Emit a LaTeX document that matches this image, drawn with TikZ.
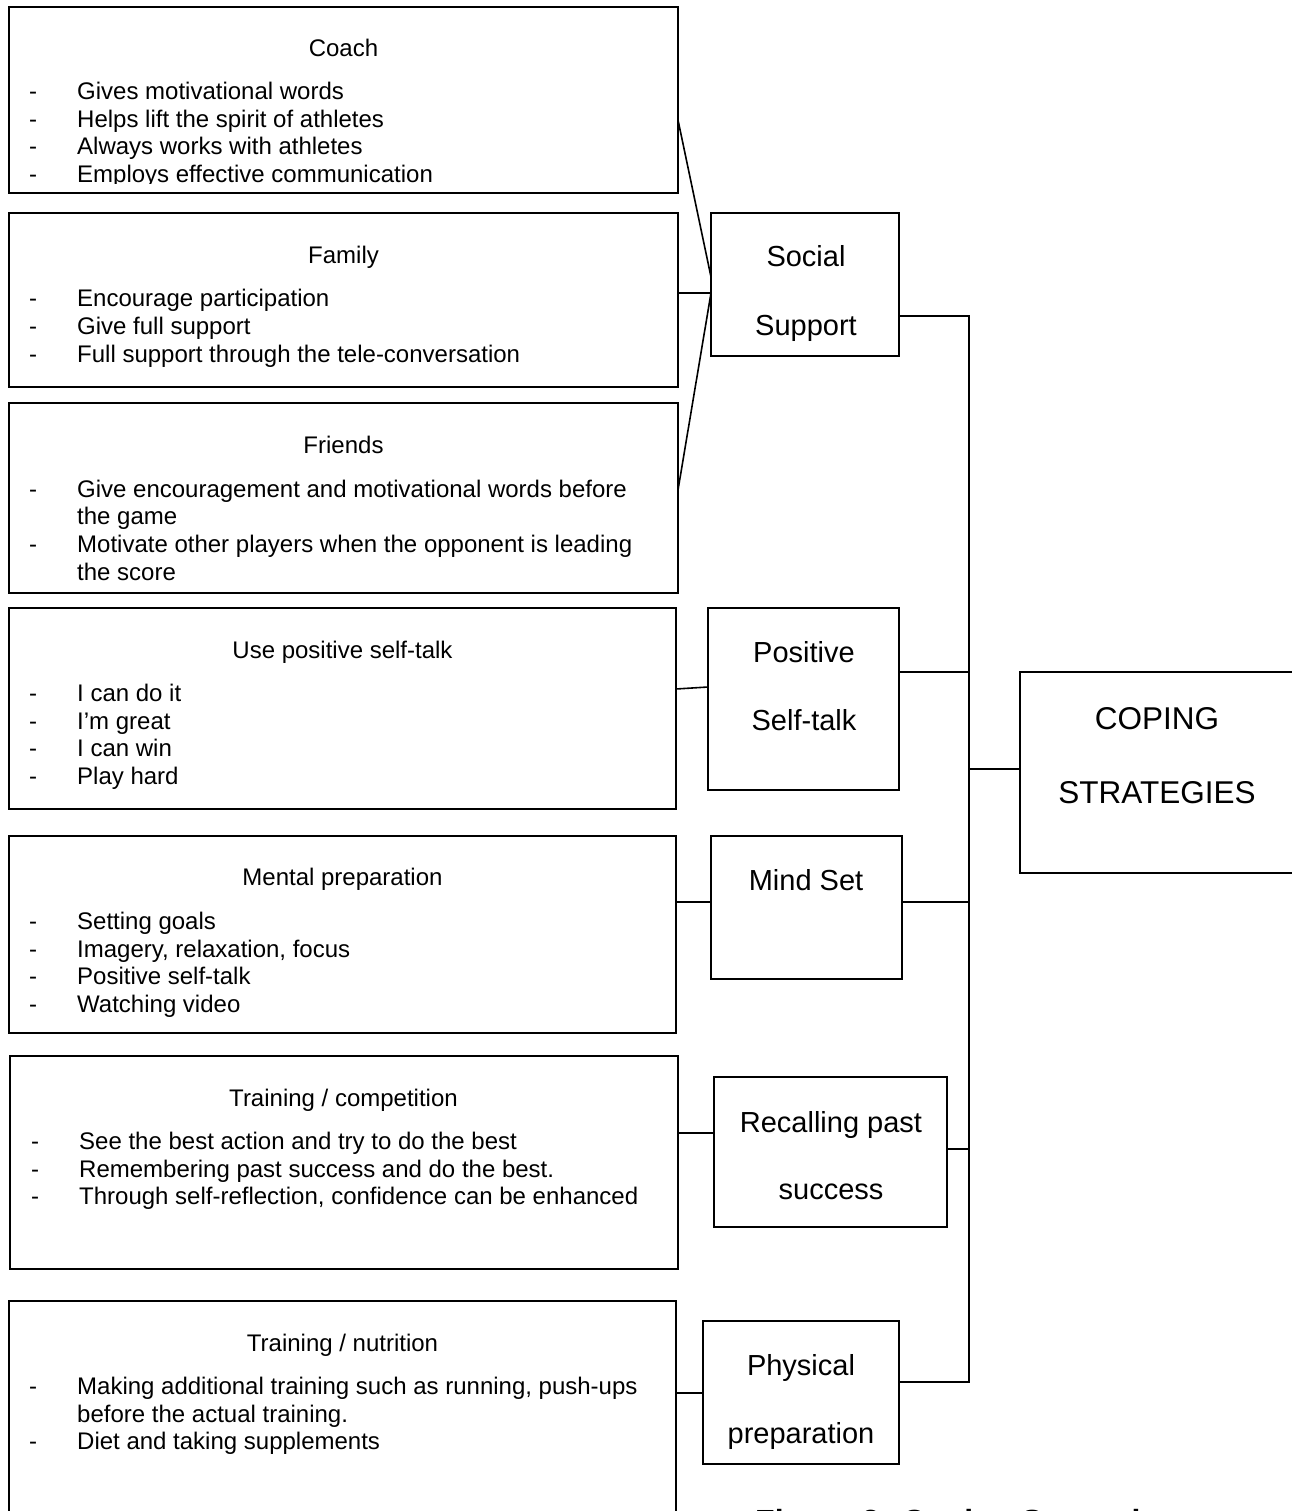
\documentclass[tikz,border=0pt]{standalone}
\usepackage{fontspec}
\newfontfamily\arialf{Liberation Sans}
\newcommand\bodyfont{\arialf\fontsize{24}{27.6}\selectfont}
\newcommand\midfont{\arialf\fontsize{29}{33}\selectfont}
\newcommand\bigfont{\arialf\fontsize{31.5}{36}\selectfont}
\newcommand\capfont{\arialf\bfseries\fontsize{32}{36}\selectfont}
\tikzset{
  box/.style={draw=black, line width=1.6pt, fill=white, inner sep=0pt, outer sep=0pt},
  conn/.style={draw=black, line width=1.6pt},
  hdr/.style={anchor=base, inner sep=0pt, font=\bodyfont},
  itemtxt/.style={anchor=base west, inner sep=0pt, font=\bodyfont},
  dashn/.style={anchor=base, inner sep=0pt, font=\bodyfont},
  midlbl/.style={anchor=base, inner sep=0pt, font=\midfont},
  biglbl/.style={anchor=base, inner sep=0pt, font=\bigfont},
}
\newcommand\itm[4]{\node[itemtxt] (#1) at (#2,#3) {#4};}
\newcommand\dsh[3]{\node[dashn] (#1) at (#2,#3) {-};}
\begin{document}
\begin{tikzpicture}[x=1pt,y=-1pt]
\useasboundingbox (0,0) rectangle (1291,1511);
% left boxes
\node[box, minimum width=669pt, minimum height=186pt] (coach) at (343.5,100) {};
\node[box, minimum width=669pt, minimum height=174pt] (family) at (343.5,300) {};
\node[box, minimum width=669pt, minimum height=190pt] (friends) at (343.5,498) {};
\node[box, minimum width=667pt, minimum height=201pt] (pst) at (342.5,708.5) {};
\node[box, minimum width=667pt, minimum height=197pt] (mental) at (342.5,934.5) {};
\node[box, minimum width=668pt, minimum height=213pt] (trcomp) at (344,1162.5) {};
\node[box, minimum width=667pt, minimum height=239pt] (trnut) at (342.5,1420.5) {};
% middle boxes
\node[box, minimum width=188pt, minimum height=143pt] (social) at (805,284.5) {};
\node[box, minimum width=191pt, minimum height=182pt] (pos) at (803.5,699) {};
\node[box, minimum width=191pt, minimum height=143pt] (mind) at (806.5,907.5) {};
\node[box, minimum width=233pt, minimum height=150pt] (recall) at (830.5,1152) {};
\node[box, minimum width=196pt, minimum height=143pt] (phys) at (801,1392.5) {};
% main box
\node[box, minimum width=290pt, minimum height=201pt] (coping) at (1165,772.5) {};

% connectors left -> middle
\draw[conn] (coach.east |- 0,120) -- (social.west |- 0,277);
\draw[conn] (family.east |- 0,293) -- (social.west |- 0,293);
\draw[conn] (friends.east |- 0,490) -- (social.west |- 0,293);
\draw[conn] (pst.east |- 0,689) -- (pos.west |- 0,687);
\draw[conn] (mental.east |- 0,902) -- (mind.west |- 0,902);
\draw[conn] (trcomp.east |- 0,1133) -- (recall.west |- 0,1133);
\draw[conn] (trnut.east |- 0,1393) -- (phys.west |- 0,1393);

% bus
\coordinate (bustop) at (969,316);
\coordinate (busbot) at (969,1382);
\draw[conn] (social.east |- bustop) -- (bustop) -- (busbot) -- (phys.east |- busbot);
\draw[conn] (pos.east |- 0,672) -- (969,672);
\draw[conn] (969,769) -- (coping.west |- 0,769);
\draw[conn] (mind.east |- 0,902) -- (969,902);
\draw[conn] (recall.east |- 0,1149) -- (969,1149);

% Coach text (clipped by the box)
\begin{scope}
\clip (9,7) rectangle (678,184);
\node[hdr] (coachh) at (343.5,56.5) {Coach};
\dsh{c1d}{33}{99.5}\itm{c1}{77}{99.5}{Gives motivational words}
\dsh{c2d}{33}{127.5}\itm{c2}{77}{127.5}{Helps lift the spirit of athletes}
\dsh{c3d}{33}{154.5}\itm{c3}{77}{154.5}{Always works with athletes}
\dsh{c4d}{33}{182.5}\itm{c4}{77}{182.5}{Employs effective communication}
\end{scope}

% Family
\node[hdr] (famh) at (343.5,263.5) {Family};
\dsh{f1d}{33}{306.5}\itm{f1}{77}{306.5}{Encourage participation}
\dsh{f2d}{33}{334.5}\itm{f2}{77}{334.5}{Give full support}
\dsh{f3d}{33}{362.5}\itm{f3}{77}{362.5}{Full support through the tele-conversation}

% Friends
\node[hdr] (frh) at (343.5,453.5) {Friends};
\dsh{r1d}{33}{497.5}\itm{r1}{77}{497.5}{Give encouragement and motivational words before}
\itm{r1b}{77}{524.5}{the game}
\dsh{r2d}{33}{552.5}\itm{r2}{77}{552.5}{Motivate other players when the opponent is leading}
\itm{r2b}{77}{580.5}{the score}

% Use positive self-talk
\node[hdr] (psth) at (342.5,658.5) {Use positive self-talk};
\dsh{p1d}{33}{701.5}\itm{p1}{77}{701.5}{I can do it}
\dsh{p2d}{33}{729.5}\itm{p2}{77}{729.5}{I’m great}
\dsh{p3d}{33}{756.5}\itm{p3}{77}{756.5}{I can win}
\dsh{p4d}{33}{784.5}\itm{p4}{77}{784.5}{Play hard}

% Mental preparation
\node[hdr] (menh) at (342.5,885.5) {Mental preparation};
\dsh{m1d}{33}{929.5}\itm{m1}{77}{929.5}{Setting goals}
\dsh{m2d}{33}{957.5}\itm{m2}{77}{957.5}{Imagery, relaxation, focus}
\dsh{m3d}{33}{984.5}\itm{m3}{77}{984.5}{Positive self-talk}
\dsh{m4d}{33}{1012.5}\itm{m4}{77}{1012.5}{Watching video}

% Training / competition
\node[hdr] (tch) at (343.5,1106.5) {Training / competition};
\dsh{t1d}{35}{1149.5}\itm{t1}{79}{1149.5}{See the best action and try to do the best}
\dsh{t2d}{35}{1177.5}\itm{t2}{79}{1177.5}{Remembering past success and do the best.}
\dsh{t3d}{35}{1204.5}\itm{t3}{79}{1204.5}{Through self-reflection, confidence can be enhanced}

% Training / nutrition
\node[hdr] (tnh) at (342.5,1351.5) {Training / nutrition};
\dsh{n1d}{33}{1394.5}\itm{n1}{77}{1394.5}{Making additional training such as running, push-ups}
\itm{n1b}{77}{1422.5}{before the actual training.}
\dsh{n2d}{33}{1449.5}\itm{n2}{77}{1449.5}{Diet and taking supplements}

% middle labels
\node[midlbl] (soc1) at (806,267) {Social};
\node[midlbl] (soc2) at (806,335) {Support};
\node[midlbl] (pos1) at (804,662) {Positive};
\node[midlbl] (pos2) at (804,730) {Self-talk};
\node[midlbl] (mind1) at (806,890) {Mind Set};
\node[midlbl] (rec1) at (831,1132) {Recalling past};
\node[midlbl] (rec2) at (831,1199) {success};
\node[midlbl] (phy1) at (801,1375) {Physical};
\node[midlbl] (phy2) at (801,1443) {preparation};

% main labels
\node[biglbl] (cop1) at (1157,729) {COPING};
\node[biglbl] (cop2) at (1157,803) {STRATEGIES};

% caption (cut off by the page edge)
\node[anchor=base west, inner sep=0pt, font=\capfont] (caption) at (755,1532) {Figure 2: Coping Strategies};
\end{tikzpicture}
\end{document}
